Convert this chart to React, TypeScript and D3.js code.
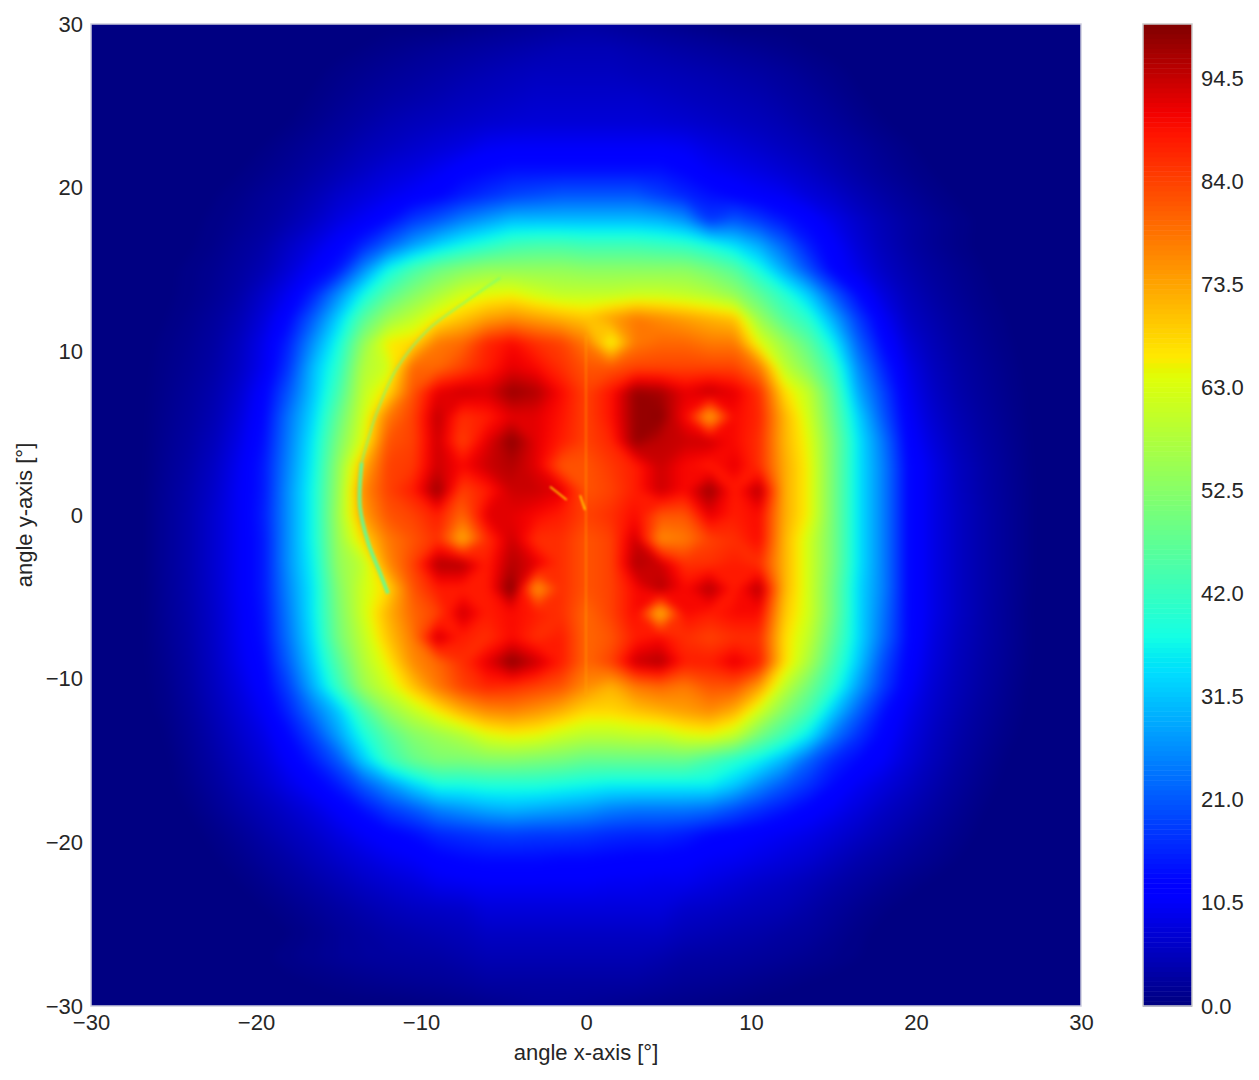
import React, { useRef, useEffect } from 'react';
import * as d3 from 'd3';

const axisTicks = [-30, -20, -10, 0, 10, 20, 30];
const barTicks = [0, 10.5, 21, 31.5, 42, 52.5, 63, 73.5, 84, 94.5];
const jetStops = [0, 0.11, 0.125, 0.34, 0.35, 0.375, 0.64, 0.65, 0.66, 0.89, 0.91, 1];
const jetRed = [0, 0, 0, 0, 0, 0.074, 0.877, 0.912, 1, 1, 0.95, 0.5];
const jetGreen = [0, 0, 0, 0.87, 0.9, 1, 1, 0.96, 0.92, 0.07, 0, 0];
const jetBlue = [0.5, 1, 1, 1, 0.966, 0.9, 0.03, 0, 0, 0, 0, 0];

// intensity, rows y = 30 .. -30, columns x = -30 .. 30, every 1.5 degrees
// zeros at the right end of a row are left out
const intensity = [
  [0,0,0,0,0,0,0,0,0,0,0,0,0,0,0,0.5,1,1.5,2,2.5,3,2.5,2,1.5,1,0.5],
  [0,0,0,0,0,0,0,0,0,0,0.1,0.5,1,1.5,2,2.5,3,3.5,4,4.5,4.5,4.5,4,3.5,3,2.5,2,1.5,1,0.5,0.1],
  [0,0,0,0,0,0,0,0,0,0.2,0.8,1.4,2,2.6,3.2,3.8,4.4,5,5.5,5.5,5.5,5.5,5,4.8,4.4,4,3.5,3,2.3,1.5,0.8,0.2],
  [0,0,0,0,0,0,0,0,0,0.6,1.4,2.2,3,3.6,4.2,5,5.5,6,6.5,6.5,6.5,6.5,6.5,6,5.5,5,4.5,4,3.2,2.4,1.5,0.6],
  [0,0,0,0,0,0,0,0,0.4,1.2,2.2,3.2,4.2,5,5.6,6.2,6.8,7.2,7.5,7.5,7.5,7.5,7.5,7.2,6.8,6.2,5.6,5,4.2,3.2,2.3,1.3,0.5],
  [0,0,0,0,0,0,0,0.5,1.3,2.2,3.2,4.5,5.5,6.5,7.5,8.5,10,10.5,10.5,10.5,10.5,10.5,10.5,10.5,10,8.5,7.5,6.5,5.5,4.5,3.4,2.4,1.4,0.6],
  [0,0,0,0,0,0,0.4,1.1,2,3.2,4.5,6,7.5,8.5,10,12,13,14,14,14,14,14,14,14,12.5,10.5,9.5,8.5,7.2,6,4.5,3.2,2,1.1,0.4],
  [0,0,0,0,0,0.4,1,2,3,4.5,6.5,8,9.5,11,12.5,15,17,19,20,21,21,21,21,18.5,16,14,12.5,11,10,8,6.5,4.6,3.2,2,1,0.3],
  [0,0,0,0,0.2,0.7,1.5,2.5,4,6,8.5,10.5,13.5,18,21,25,28,31,31,31,31,31,31,30,27,18,21,18,14.5,12,9,6.5,4.5,3,1.8,0.9,0.2],
  [0,0,0,0,0.3,1,2.2,3.5,6,8.5,11.5,16,22,28,33,37,40,43,44,44,43,43,43,42,41,38,34,29,22,15,11,7.5,5,3.2,1.8,0.8,0.1],
  [0,0,0,0.2,0.7,1.5,2.8,4.5,7.5,11,15,26,37,44,49,52,54,54,54,54,53,53,53,53,53,50,46,38,29,20,12,9,6,4,2.5,1.4,0.5],
  [0,0,0,0.2,0.8,1.8,3.5,6.5,10,16,26,37,46,52,57,62,64,65,62,60,60,60,61,61,60,58,54,47,40,32,21,13,8,5,3.2,1.8,0.8,0.1],
  [0,0,0,0.4,1.2,2.5,4.5,8,13,22,33,46,55,60,66,70,74,76,74,72,70,74,78,76,74,72,70,55,46,40,29,18,10.5,6,4,2.4,1.2,0.4],
  [0,0,0,0.7,1.6,3,5.5,9.5,16,27,38,54,66,68,78,80,87,90,86,84,78,64,78,80,80,78,78,64,55,47,36,22,13,7.5,4.8,2.9,1.6,0.6],
  [0,0,0,0.9,1.9,3.4,6,10,18,31,41,58,62,80,80,84,88,92,90,86,82,82,84,84,84,84,84,78,60,52,42,26,16,9,5.5,3.4,2,0.9],
  [0,0,0,1.1,2.3,4,7,12,21,32,44,60,68,82,92,94,93,98,96,90,84,89,98,97,92,95,92,86,68,60,46,29,19,10,6.2,3.8,2.3,1.1,0.1],
  [0,0,0,1.3,2.6,4.5,8,13,24,34,48,62,78,84,95,86,88,92,92,89,84,89,98,99,90,72,90,87,72,62,48,33,21,11,7,4.4,2.7,1.3,0.2],
  [0,0,0,1.5,3,5.2,9,14,25,36,51,64,82,84,94,84,92,99,92,88,84,87,98,95,94,94,90,86,72,64,50,35,24,12,8,5,3.1,1.6,0.3],
  [0,0,0,1.7,3.4,6,10,15,26,37,54,72,84,85,94,90,94,96,92,82,82,85,88,94,90,88,92,86,73,65,50,35,25,13,9,5.6,3.5,1.8,0.4],
  [0,0,0.1,1.9,3.8,6.5,10.5,15,27,38,55,76,84,88,98,84,88,94,94,92,82,84,88,94,90,98,88,96,73,65,50,35,25,13,9,5.8,3.6,1.9,0.5],
  [0,0,0.1,2,4,7,10.5,15.5,27,38,56,74,82,84,88,80,92,92,90,88,84,86,90,82,82,92,88,90,73,65,50,35,25,13,9,6,3.8,2,0.5],
  [0,0,0.1,2,4,7,10.5,15,27,38,55,68,78,82,86,72,86,94,86,86,82,84,94,76,78,84,86,90,72,62,50,35,25,13,9,6,3.8,2,0.5],
  [0,0,0.1,2,4,7,10.5,15,27,37,54,60,76,84,96,96,88,96,92,86,82,84,96,94,86,86,88,86,72,62,50,35,25,13,9,6,3.8,2,0.5],
  [0,0,0,1.9,3.9,6.8,10.5,15,26,36,52,62,68,82,88,88,88,100,74,86,82,84,90,96,90,96,88,96,72,62,49,34,25,13,9,6,3.8,2,0.4],
  [0,0,0,1.8,3.7,6.5,10.2,14.5,25,36,51,62,72,80,84,94,88,90,88,86,80,84,90,70,90,88,90,90,70,62,49,34,24,13,9,6,3.7,1.9,0.3],
  [0,0,0,1.6,3.5,6.3,10,14,24,35,50,60,70,78,94,88,86,90,86,88,80,82,88,90,86,84,86,86,68,60,47,34,23,13,8.5,5.6,3.6,1.9,0.4],
  [0,0,0,1.3,3.2,6,9.5,13,22,33,46,58,66,76,80,86,92,99,94,88,80,84,94,96,88,88,92,88,68,57,44,32,20,12,8,5.2,3.3,1.7,0.3],
  [0,0,0,1,2.9,5.5,8.5,12,19,30,42,55,62,70,78,84,87,86,84,82,76,72,78,80,78,82,82,74,60,50,40,28,18,11,7.2,4.8,3,1.4,0.1],
  [0,0,0,0.7,2.4,4.8,7.5,10.5,16,24,32,44,54,60,66,72,76,77,75,72,68,68,70,72,74,76,72,62,52,44,32,22,14,9.5,6.5,4.2,2.5,1.1],
  [0,0,0,0.4,1.9,4,6.5,9,13,19,28,38,46,52,55,58,63,65,64,61,59,59,60,60,63,64,60,50,43,35,24,17,12,8.5,5.7,3.6,2,0.7],
  [0,0,0,0,1.5,3.3,5.5,7.8,11,15,21,32,42,48,51,51,52,52,51,50,48,48,48,48,48,44,40,36,30,22,16,13,10.5,7.5,5,3,1.5,0.3],
  [0,0,0,0,1,2.6,4.5,6.5,9,11.5,15,21,27,33,38,38,39,39,39,38,37,36,36,36,36,36,32,26,21,17,13,10,8,6,4,2.3,1],
  [0,0,0,0,0.5,1.7,3.3,4.8,6.5,8.5,11,14,18,21,25,27,29,30,29,28,27,25,24,24,24,23,20,17,14.5,12,10,8,6,4.5,3,1.6,0.5],
  [0,0,0,0,0,0.8,2,3.5,5,6.5,8.5,10.5,12,13.5,16,17,18,18.5,18,18,17.5,16.5,16,16,15,13,12,11,10,9,7.5,6,4.5,3.2,2,1,0.1],
  [0,0,0,0,0,0.3,1.1,2.3,3.5,5,6.5,8,9.5,10.5,12,13,13.5,13.5,13.5,13,13,12.5,12,12,11.5,10.5,10,9,8,7,5.5,4,3,2,1.2,0.4],
  [0,0,0,0,0,0,0.4,1.2,2.3,3.4,4.6,6,7,8,9.5,10,10.5,10.5,10.5,10.5,10.5,10,10,9.5,9.5,8.5,7.5,6.5,5.8,4.8,3.6,2.6,1.6,0.8,0.2],
  [0,0,0,0,0,0,0,0.4,1.1,2,3,4,5,5.8,6.2,6.6,8,8,8,8,8,8,8,8,6.6,6.2,5.6,5,4.5,3.5,2.4,1.4,0.6,0.1],
  [0,0,0,0,0,0,0,0,0.4,1.1,2,2.8,3.5,4,4.5,5,6,6,6,6,6,6,6,6,5,4.5,4,3.6,3,2.5,1.6,0.7,0.1],
  [0,0,0,0,0,0,0,0.3,0.9,1.4,2,2.5,2.8,3,3.2,3.8,4.5,4.5,4.5,4.5,4.5,4.5,4.5,4,3.2,3,2.8,2.4,2,1.5,1,0.5,0.1],
  [0,0,0,0,0,0,0,0,0.2,0.5,0.8,1.2,1.5,1.8,2,2.4,3,3,3,3,3,3,3,2.5,2,1.8,1.5,1.1,0.7,0.4,0.1],
  [0,0,0,0,0,0,0,0,0,0,0,0,0,0.2,0.5,0.8,1.2,1.6,2,2,1.8,1.5,1.2,1,0.8,0.5,0.3],
];

// thin features the grid is too coarse to hold, in degrees
const crescentLow = [[-12, -4.8], [-12.5, -3.5], [-13.2, -1.7], [-13.7, 0.5], [-13.6, 3.2]];
const crescentHigh = [[-13.6, 3.2], [-12.7, 6.2], [-11.5, 8.9], [-9.6, 11.3], [-7.2, 13.1], [-5.2, 14.5]];
const seam = [[0, 11], [0, -11]];
const streakA = [[-2.18, 1.73], [-1.17, 0.92]];
const streakB = [[-0.36, 1.2], [-0.06, 0.3]];

const App = () => {
  const ref = useRef<SVGSVGElement>(null);

  useEffect(() => {
    const svg = d3.select(ref.current);
    svg.selectAll('*').remove();

    const plot = { left: 91, right: 1081, top: 24, bottom: 1006 };
    const bar = { left: 1143, right: 1192 };
    const font = '"Liberation Sans", Arial, sans-serif';
    const ink = '#262626';
    const spine = '#ccccdd';

    const x = d3.scaleLinear().domain([-30, 30]).range([plot.left, plot.right]);
    const y = d3.scaleLinear().domain([-30, 30]).range([plot.bottom, plot.top]);
    const level = d3.scaleLinear().domain([0, 100]).range([plot.bottom, plot.top]);

    const toRgb = (stops: number[]) => d3.scaleLinear().domain(jetStops).range(stops).clamp(true);
    const r = toRgb(jetRed), g = toRgb(jetGreen), b = toRgb(jetBlue);
    const jet = (v: number) => {
      const t = v / 100;
      return d3.rgb(r(t) * 255, g(t) * 255, b(t) * 255).formatHex();
    };

    const nx = 41, ny = 41;
    const values = intensity.flatMap(row => d3.range(nx).map(i => row[i] ?? 0));
    const thresholds = d3.range(0, 100, 0.5);
    const contours = d3.contours().size([nx, ny]).thresholds(thresholds)(values);

    // grid node i sits at i + 0.5 in contour coordinates
    const gridX = d3.scaleLinear().domain([0.5, nx - 0.5]).range([x(-30), x(30)]);
    const gridY = d3.scaleLinear().domain([0.5, ny - 0.5]).range([y(30), y(-30)]);
    const path = d3.geoPath(d3.geoTransform({
      point(px, py) { this.stream.point(gridX(px), gridY(py)); },
    }));

    const defs = svg.append('defs');
    defs.append('clipPath').attr('id', 'plotClip').append('rect')
      .attr('x', plot.left).attr('y', plot.top)
      .attr('width', plot.right - plot.left).attr('height', plot.bottom - plot.top);
    defs.append('filter').attr('id', 'soften')
      .attr('filterUnits', 'userSpaceOnUse')
      .attr('x', 0).attr('y', 0).attr('width', 1259).attr('height', 1080)
      .attr('color-interpolation-filters', 'sRGB')
      .append('feGaussianBlur').attr('stdDeviation', 4);
    defs.append('filter').attr('id', 'softenLine')
      .attr('filterUnits', 'userSpaceOnUse')
      .attr('x', 0).attr('y', 0).attr('width', 1259).attr('height', 1080)
      .attr('color-interpolation-filters', 'sRGB')
      .append('feGaussianBlur').attr('stdDeviation', 1.2);

    const clipped = svg.append('g').attr('clip-path', 'url(#plotClip)');
    const field = clipped.append('g').attr('filter', 'url(#soften)');
    field.append('rect')
      .attr('x', plot.left - 30).attr('y', plot.top - 30)
      .attr('width', plot.right - plot.left + 60).attr('height', plot.bottom - plot.top + 60)
      .attr('fill', jet(0.25));
    field.selectAll('path')
      .data(contours)
      .join('path')
      .attr('d', d => path(d))
      .attr('fill', d => jet(d.value + 0.25));

    const line = d3.line().x(d => x(d[0])).y(d => y(d[1]));
    const curve = d3.line().x(d => x(d[0])).y(d => y(d[1])).curve(d3.curveCatmullRom);
    const overlay = clipped.append('g').attr('filter', 'url(#softenLine)').attr('fill', 'none');
    overlay.append('path').attr('d', curve(crescentLow))
      .attr('stroke', jet(46)).attr('stroke-width', 4).attr('stroke-opacity', 0.8);
    overlay.append('path').attr('d', curve(crescentHigh))
      .attr('stroke', jet(48)).attr('stroke-width', 2.5).attr('stroke-opacity', 0.5);
    overlay.append('path').attr('d', line(seam))
      .attr('stroke', jet(72)).attr('stroke-width', 1.5).attr('stroke-opacity', 0.5);
    overlay.append('path').attr('d', line(streakA))
      .attr('stroke', jet(68)).attr('stroke-width', 1.5);
    overlay.append('path').attr('d', line(streakB))
      .attr('stroke', jet(66)).attr('stroke-width', 1.5);

    svg.append('rect')
      .attr('x', plot.left).attr('y', plot.top)
      .attr('width', plot.right - plot.left).attr('height', plot.bottom - plot.top)
      .attr('fill', 'none').attr('stroke', spine).attr('stroke-width', 1.5);

    const styleAxis = (g: any) => {
      g.select('.domain').remove();
      g.selectAll('text').attr('font-family', font).attr('font-size', 22).attr('fill', ink);
      g.selectAll('line').remove();
    };

    svg.append('g').attr('transform', `translate(0, ${plot.bottom})`)
      .call(d3.axisBottom(x).tickValues(axisTicks).tickSize(0).tickPadding(8))
      .call(styleAxis);
    svg.append('g').attr('transform', `translate(${plot.left}, 0)`)
      .call(d3.axisLeft(y).tickValues(axisTicks).tickSize(0).tickPadding(8))
      .call(styleAxis);

    svg.append('text').attr('x', (plot.left + plot.right) / 2).attr('y', 1060)
      .attr('text-anchor', 'middle').attr('font-family', font).attr('font-size', 22).attr('fill', ink)
      .text('angle x-axis [°]');
    svg.append('text').attr('transform', `translate(32, ${(plot.top + plot.bottom) / 2}) rotate(-90)`)
      .attr('text-anchor', 'middle').attr('font-family', font).attr('font-size', 22).attr('fill', ink)
      .text('angle y-axis [°]');

    svg.append('g').selectAll('rect')
      .data(thresholds)
      .join('rect')
      .attr('x', bar.left).attr('width', bar.right - bar.left)
      .attr('y', d => level(d + 0.5))
      .attr('height', d => level(d) - level(d + 0.5) + 0.5)
      .attr('fill', d => jet(d + 0.25));
    svg.append('rect')
      .attr('x', bar.left).attr('y', plot.top)
      .attr('width', bar.right - bar.left).attr('height', plot.bottom - plot.top)
      .attr('fill', 'none').attr('stroke', '#cccccc').attr('stroke-width', 1.5);

    svg.append('g').attr('transform', `translate(${bar.right}, 0)`)
      .call(d3.axisRight(level).tickValues(barTicks).tickFormat(d3.format('.1f')).tickSize(0).tickPadding(9))
      .call(styleAxis);
  }, []);

  return <svg ref={ref} width={1259} height={1080} style={{ position: 'absolute', left: 0, top: 0, background: '#fff' }} />;
};

export default App;
